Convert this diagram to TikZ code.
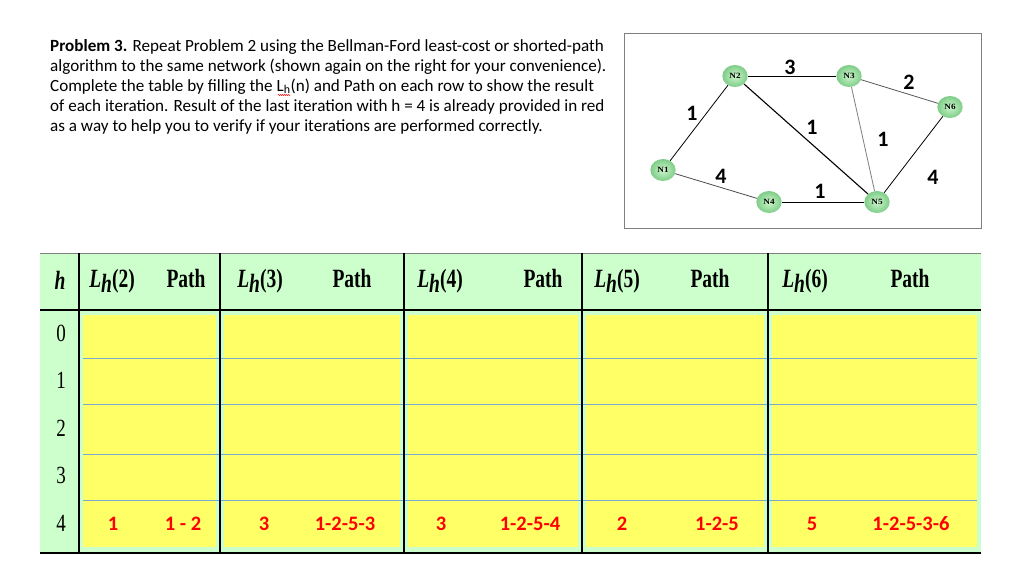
\documentclass[tikz,border=0pt]{standalone}
\usepackage{fontspec}
\setmainfont{Liberation Serif}
\newfontfamily\calfnt{Carlito}
\usetikzlibrary{decorations.pathmorphing}
\definecolor{hgreen}{RGB}{204,255,204}
\definecolor{hyel}{RGB}{255,255,102}
\definecolor{nodein}{RGB}{205,245,205}
\definecolor{nodeout}{RGB}{125,205,135}
\definecolor{rowline}{RGB}{120,170,210}
\tikzset{
  net/.style={circle,draw=none,inner sep=0pt,minimum width=22pt,minimum height=20pt,
    inner color=nodein,outer color=nodeout,font=\bfseries\fontsize{8}{8}\selectfont,xscale=1.15},
  wt/.style={font=\calfnt\bfseries\fontsize{22}{22}\selectfont},
  txt/.style={anchor=base west,inner sep=0pt,font=\calfnt\fontsize{17.1}{17}\selectfont},
  hd/.style={font=\bfseries\fontsize{19.5}{19}\selectfont,inner sep=0pt,yscale=1.35},
  rn/.style={font=\fontsize{19}{19}\selectfont,inner sep=0pt,yscale=1.3},
  rv/.style={font=\calfnt\bfseries\fontsize{20.5}{20}\selectfont,text=red,inner sep=0pt},
  ed/.style={line width=0.8pt}
}
\newcommand{\Lh}[1]{\textit{L\raisebox{-0.45ex}{h}}(#1)}
\begin{document}
\begin{tikzpicture}[x=1pt,y=-1pt]
\useasboundingbox[fill=white] (0,0) rectangle (1024,573);
% text
\node[txt] (t1) at (50,51) {\textbf{Problem 3.} Repeat Problem 2 using the Bellman-Ford least-cost or shorted-path};
\node[txt] (t2) at (50,71) {algorithm to the same network (shown again on the right for your convenience).};
\node[txt] (t3) at (50,91) {Complete the table by filling the L\textsubscript{h}(n) and Path on each row to show the result};
\node[txt] (t4) at (50,111) {of each iteration. Result of the last iteration with h = 4 is already provided in red};
\node[txt] (t5) at (50,131) {as a way to help you to verify if your iterations are performed correctly.};
\coordinate (sq1) at (278,95); \coordinate (sq2) at (290,95);
\draw[red,line width=0.4pt,decorate,decoration={zigzag,amplitude=0.6pt,segment length=2pt}] (sq1) -- (sq2);
% network box
\draw[gray,line width=1pt] (624,33) rectangle (981,228);
\node[net] (N2) at (735,76) {N2};
\node[net] (N3) at (849,76) {N3};
\node[net] (N6) at (950,107) {N6};
\node[net] (N1) at (663,170) {N1};
\node[net] (N4) at (769,202) {N4};
\node[net] (N5) at (877,202) {N5};
\draw[ed] (N1) -- (N2); \draw[ed] (N2) -- (N3); \draw[ed,gray!70!black] (N3) -- (N6);
\draw[ed,line width=1.1pt] (N2) -- (N5); \draw[ed,gray] (N3) -- (N5); \draw[ed] (N6) -- (N5);
\draw[ed,gray!60!black] (N1) -- (N4); \draw[ed] (N4) -- (N5);
\node[wt] (w1) at (790,67) {3};
\node[wt] (w2) at (909,82) {2};
\node[wt] (w3) at (692,113) {1};
\node[wt] (w4) at (812,127) {1};
\node[wt] (w5) at (883,139) {1};
\node[wt] (w6) at (721,176) {4};
\node[wt] (w7) at (820,191) {1};
\node[wt] (w8) at (933,177) {4};
% table
\fill[hgreen] (40,253) rectangle (981,553);
\foreach \a/\b in {83/216,224/400,408/578,586/764,772/977}
  \fill[hyel] (\a,315) rectangle (\b,547);
\foreach \y in {358,404,454,500}
  \draw[rowline,line width=0.8pt] (83,\y) -- (977,\y);
\draw[gray,line width=0.8pt] (40,253) -- (981,253);
\draw[line width=1.6pt] (40,310) -- (981,310);
\draw[line width=1.6pt] (40,553) -- (981,553);
\foreach \x in {79,220,404,582,768}
  \draw[line width=1.6pt] (\x,253) -- (\x,553);
\node[hd] (hh) at (60,280) {\textit{h}};
\node[hd] (h2) at (112,281) {\Lh{2}};
\node[hd] (p2) at (186,278) {Path};
\node[hd] (h3) at (260,281) {\Lh{3}};
\node[hd] (p3) at (352,278) {Path};
\node[hd] (h4) at (440,281) {\Lh{4}};
\node[hd] (p4) at (543,278) {Path};
\node[hd] (h5) at (617,281) {\Lh{5}};
\node[hd] (p5) at (710,278) {Path};
\node[hd] (h6) at (805,281) {\Lh{6}};
\node[hd] (p6) at (910,278) {Path};
\foreach \i/\y in {0/333,1/380,2/428,3/475,4/523}
  \node[rn] (r\i) at (61,\y) {\i};
\node[rv] (v1) at (113,524) {1};
\node[rv] (v2) at (183,524) {1 - 2};
\node[rv] (v3) at (264,524) {3};
\node[rv] (v4) at (345,524) {1-2-5-3};
\node[rv] (v5) at (441,524) {3};
\node[rv] (v6) at (530,524) {1-2-5-4};
\node[rv] (v7) at (622,524) {2};
\node[rv] (v8) at (717,524) {1-2-5};
\node[rv] (v9) at (812,524) {5};
\node[rv] (v10) at (911,524) {1-2-5-3-6};
\end{tikzpicture}
\end{document}
